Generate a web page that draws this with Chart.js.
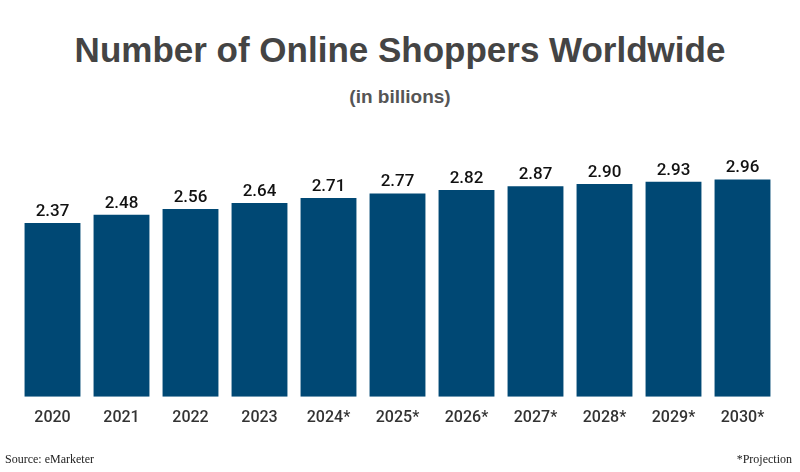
<!DOCTYPE html>
<html><head><meta charset="utf-8">
<script src="https://cdn.jsdelivr.net/npm/chart.js@4/dist/chart.umd.min.js"></script>
<style>
body{margin:0;background:#fff;width:800px;height:472px;overflow:hidden;position:relative;font-family:Roboto,"Liberation Sans",sans-serif}
#t{position:absolute;top:30px;width:800px;text-align:center;font:bold 35px "Liberation Sans",Arial,sans-serif;color:#444}
#s{position:absolute;top:86px;width:800px;text-align:center;font:bold 19px "Liberation Sans",Arial,sans-serif;color:#555}
#src{position:absolute;left:5px;top:452px;font:12px "Liberation Serif",serif;color:#222}
#pr{position:absolute;right:8px;top:452px;font:12px "Liberation Serif",serif;color:#222}
canvas{position:absolute;left:0;top:0}
</style></head><body>
<div id="t">Number of Online Shoppers Worldwide</div>
<div id="s">(in billions)</div>
<canvas id="c" width="800" height="472"></canvas>
<div id="src">Source: eMarketer</div>
<div id="pr">*Projection</div>
<script>
const years=["2020","2021","2022","2023","2024*","2025*","2026*","2027*","2028*","2029*","2030*"];
const shoppers=[2.37,2.48,2.56,2.64,2.71,2.77,2.82,2.87,2.90,2.93,2.96];
const labelPlugin={id:'vals',afterDatasetsDraw(ch){const c=ch.ctx;c.save();c.font='500 17px Roboto';c.fillStyle='#111';c.textAlign='center';c.textBaseline='bottom';
ch.getDatasetMeta(0).data.forEach((b,i)=>c.fillText(shoppers[i].toFixed(2),b.x,b.y-3));c.restore();}};
new Chart(document.getElementById('c'),{type:'bar',
data:{labels:years,datasets:[{data:shoppers,backgroundColor:'#004874',barPercentage:0.81,categoryPercentage:1}]},
options:{responsive:false,animation:false,
layout:{padding:{left:18,right:23,top:162,bottom:40}},
plugins:{legend:{display:false},tooltip:{enabled:false}},
scales:{y:{display:false,min:0,max:3.2},
x:{grid:{display:false},border:{display:false},ticks:{color:'#333',font:{family:'Roboto',size:16,weight:'500'},padding:4}}}},
plugins:[labelPlugin]});
</script></body></html>
